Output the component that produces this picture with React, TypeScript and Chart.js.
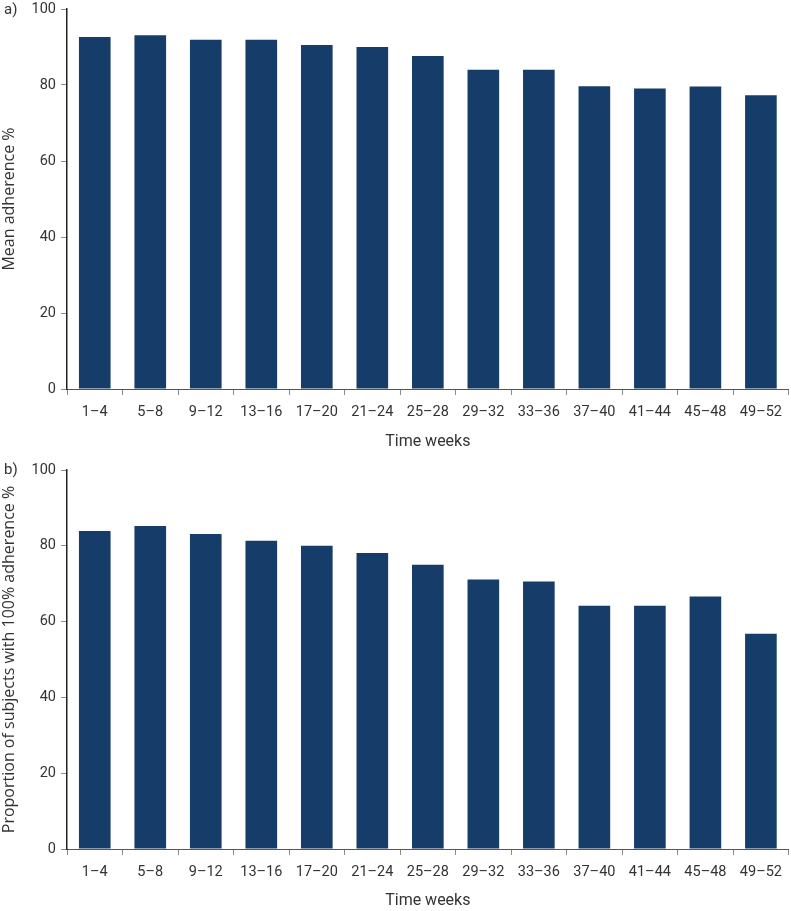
import React, { useEffect, useRef } from "react";
import { Chart, registerables } from "chart.js";

Chart.register(...registerables);

const categories = ["1–4", "5–8", "9–12", "13–16", "17–20", "21–24", "25–28", "29–32", "33–36", "37–40", "41–44", "45–48", "49–52"];
const meanAdherence = [92.6, 93.1, 91.9, 91.9, 90.5, 90.0, 87.6, 84.0, 84.0, 79.7, 79.1, 79.6, 77.3];
const proportion100 = [83.9, 85.2, 83.1, 81.3, 80.0, 78.1, 75.0, 71.1, 70.6, 64.2, 64.2, 66.6, 56.8];
const yTicks = [0, 20, 40, 60, 80, 100];

const BAR = "#163d69";
const FONT = "Roboto";
const TITLE_FONT = "'Open Sans'";

function makeConfig(values: number[], yTitle: string, padTop: number, xHeight: number, titlePadBottom: number): any {
  return {
    type: "bar",
    data: {
      labels: categories,
      datasets: [
        {
          data: values,
          backgroundColor: BAR,
          borderWidth: 0,
          barPercentage: 0.57,
          categoryPercentage: 1,
        },
      ],
    },
    options: {
      animation: false,
      responsive: false,
      maintainAspectRatio: false,
      layout: { padding: { top: padTop, right: 1, left: 0, bottom: 0 } },
      plugins: { legend: { display: false }, tooltip: { enabled: false } },
      scales: {
        x: {
          offset: true,
          grid: { offset: true, drawOnChartArea: false, drawTicks: true, tickLength: 6, color: "#8a8a8a" },
          border: { color: "#555", width: 1 },
          ticks: { color: "#333", font: { family: FONT, size: 14.5 }, padding: 9, maxRotation: 0, autoSkip: false },
          title: { display: true, text: "Time weeks", color: "#333", font: { family: FONT, size: 16 }, padding: { top: 8, bottom: titlePadBottom } },
          afterFit: (s: any) => { s.height = xHeight; },
        },
        y: {
          min: 0,
          max: 100,
          afterBuildTicks: (s: any) => { s.ticks = yTicks.map((v) => ({ value: v })); },
          grid: { drawOnChartArea: false, drawTicks: true, tickLength: 6, color: "#8a8a8a" },
          border: { color: "#222", width: 1.5 },
          ticks: { color: "#333", font: { family: FONT, size: 14.5 }, padding: 5 },
          title: { display: true, text: yTitle, color: "#333", font: { family: TITLE_FONT, size: 16 }, padding: { top: 0, bottom: 0 } },
          afterFit: (s: any) => { s.width = 67; s.paddingTop = 0; s.paddingBottom = 0; },
        },
      },
    },
  };
}

function BarPanel({ values, yTitle, top, height, padTop, xHeight, titlePadBottom, label, labelTop }: any) {
  const ref = useRef<HTMLCanvasElement | null>(null);
  useEffect(() => {
    if (!ref.current) return;
    const chart = new Chart(ref.current, makeConfig(values, yTitle, padTop, xHeight, titlePadBottom));
    return () => chart.destroy();
  }, []);
  return (
    <div style={{ position: "absolute", left: 0, top, width: 791, height }}>
      <canvas ref={ref} width={791} height={height} style={{ width: 791, height, display: "block" }} />
      <div style={{ position: "absolute", left: 4, top: labelTop, fontFamily: FONT, fontSize: 15, lineHeight: "18px", color: "#333" }}>{label}</div>
    </div>
  );
}

export default function App() {
  return (
    <div style={{ position: "absolute", left: 0, top: 0, width: 791, height: 911, background: "#fff" }}>
      <BarPanel values={meanAdherence} yTitle="Mean adherence %" top={0} height={455} padTop={9} xHeight={66} titlePadBottom={3} label="a)" labelTop={0} />
      <BarPanel values={proportion100} yTitle="Proportion of subjects with 100% adherence %" top={455} height={456} padTop={15} xHeight={62} titlePadBottom={0} label="b)" labelTop={5} />
    </div>
  );
}
